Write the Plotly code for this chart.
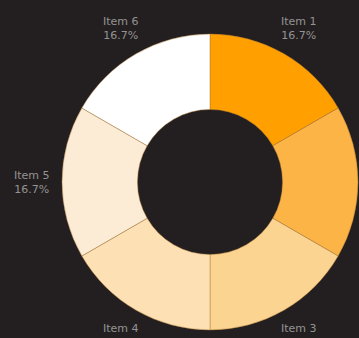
import math
import plotly.graph_objects as go

# Six equal shares around a ring, labelled just outside it
labels = ["Item 1", "Item 2", "Item 3", "Item 4", "Item 5", "Item 6"]
values = [1, 1, 1, 1, 1, 1]
colors = ["#FF9F00", "#FDB446", "#FCD491", "#FDE0B4", "#FCEBD5", "#FFFFFF"]

W, H = 359, 338
cx, cy, r = 210, 182, 148  # ring centre and outer radius in pixels
label_r = 1.2 * r          # distance of the outside labels from the centre

fig = go.Figure(
    go.Pie(
        labels=labels,
        values=values,
        hole=0.49,
        sort=False,
        direction="clockwise",
        rotation=0,
        marker=dict(colors=colors, line=dict(color="rgba(170,120,50,0.45)", width=1)),
        textinfo="none",
        hoverinfo="label+percent",
        domain=dict(
            x=[(cx - r) / W, (cx + r) / W],
            y=[(H - cy - r) / H, (H - cy + r) / H],
        ),
        showlegend=False,
    )
)

# Outside labels placed along each slice's mid-angle (clockwise from 12 o'clock)
total = sum(values)
start = 0.0
for lab, v in zip(labels, values):
    mid = (start + v / 2) / total * 2 * math.pi
    start += v
    px = cx + label_r * math.sin(mid)
    py = cy - label_r * math.cos(mid)
    fig.add_annotation(
        x=px / W,
        y=(H - py) / H,
        xref="paper",
        yref="paper",
        text=f"{lab}<br>{v / total:.1%}",
        showarrow=False,
        xanchor="center",
        yanchor="middle",
        font=dict(family="DejaVu Sans", size=11, color="#939393"),
    )

fig.update_layout(
    width=W,
    height=H,
    margin=dict(l=0, r=0, t=0, b=0),
    paper_bgcolor="#231F20",
    plot_bgcolor="#231F20",
)

fig.write_html("out.html")
